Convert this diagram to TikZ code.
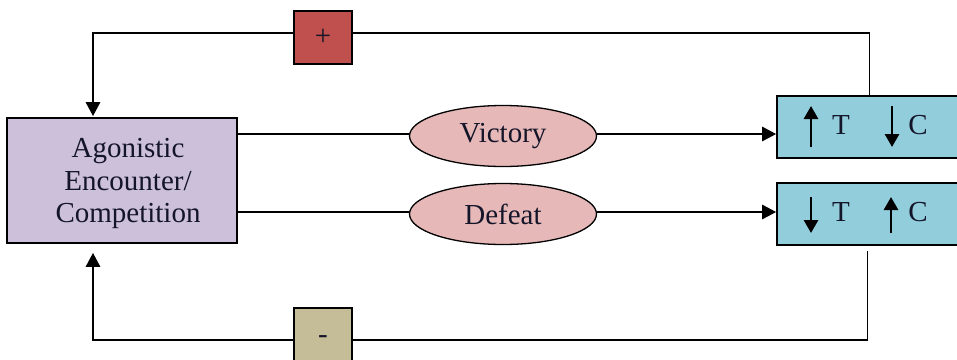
\documentclass[tikz,border=0pt]{standalone}
\usepackage{fontspec}
\setmainfont{Liberation Serif}
\usetikzlibrary{arrows.meta,calc,shapes.geometric}
\definecolor{plusred}{HTML}{C0504D}
\definecolor{minustan}{HTML}{C4BD97}
\definecolor{agonlilac}{HTML}{CCC0DA}
\definecolor{ovalpink}{HTML}{E6B9B8}
\definecolor{tcblue}{HTML}{92CDDC}
\definecolor{inkdark}{HTML}{15152A}
\tikzset{
  box/.style={draw=black, line width=1.6pt, inner sep=0pt},
  oval/.style={ellipse, draw=black, line width=1.3pt, fill=ovalpink, minimum width=187pt, minimum height=61pt, inner sep=0pt},
  txt/.style={font=\fontsize{29}{32.5}\selectfont, text=inkdark},
  thinline/.style={line width=1.6pt},
  thickarrow/.style={line width=2.6pt, -{Triangle[length=14pt,width=14pt]}},
  inarrow/.style={line width=2.8pt, -{Triangle[length=13pt,width=14pt]}},
}
\begin{document}
\begin{tikzpicture}[x=1pt,y=-1pt]
\useasboundingbox (0,0) rectangle (957,359);
\node[box, fill=agonlilac, minimum width=230pt, minimum height=125pt] (agon) at (122,180.5) {};
\node[txt, align=center, inner sep=0pt] (agontext) at ($(agon.center)+(6,3)$) {Agonistic\\Encounter/\\Competition};
\node[box, fill=plusred, minimum width=58pt, minimum height=53pt, txt] (plus) at (323,37.5) {+};
\node[box, fill=minustan, minimum width=58pt, minimum height=64pt, txt] (minus) at (323,340) {-};
\node[oval, txt] (vic) at (503,136) {Victory};
\node[oval, txt] (def) at (503,214) {Defeat};
\node[box, fill=tcblue, minimum width=185pt, minimum height=62pt] (tc1) at (869.5,127) {};
\node[box, fill=tcblue, minimum width=185pt, minimum height=62pt] (tc2) at (869.5,214) {};
% labels in boxes
\node[txt, inner sep=0pt] (t1) at ($(tc1.center)+(-28.5,-2)$) {T};
\node[txt, inner sep=0pt] (c1) at ($(tc1.center)+(48.5,-2)$) {C};
\node[txt, inner sep=0pt] (t2) at ($(tc2.center)+(-28.5,-2)$) {T};
\node[txt, inner sep=0pt] (c2) at ($(tc2.center)+(48.5,-2)$) {C};
\draw[inarrow] ($(tc1.center)+(-58.5,20)$) -- ($(tc1.center)+(-58.5,-21)$);
\draw[inarrow] ($(tc1.center)+(22.5,-21)$) -- ($(tc1.center)+(22.5,20)$);
\draw[inarrow] ($(tc2.center)+(-58.5,-17)$) -- ($(tc2.center)+(-58.5,19)$);
\draw[inarrow] ($(tc2.center)+(21.5,19)$) -- ($(tc2.center)+(21.5,-17)$);
% coordinates
\coordinate (topy) at (0,33);
\coordinate (boty) at (0,340);
\coordinate (leftx) at (93,0);
\coordinate (agontop) at ($(agon.north -| leftx)+(0,-1)$);
\coordinate (agonbot) at ($(agon.south -| leftx)+(0,9)$);
\coordinate (tc2bot) at ($(tc2.south)+(-2,5)$);
% connectors
\draw[thinline] (agon.east |- 0,134) -- (vic.west |- 0,134);
\draw[thickarrow] (vic.east |- 0,134) -- (tc1.west |- 0,134);
\draw[thinline] (agon.east |- 0,212) -- (def.west |- 0,212);
\draw[thickarrow] (def.east |- 0,212) -- (tc2.west |- 0,212);
\draw[thinline] (tc1.north) |- (plus.east |- topy);
\draw[thickarrow] (plus.west |- topy) -| (agontop);
\draw[thinline] (tc2bot) |- (minus.east |- boty);
\draw[thickarrow] (minus.west |- boty) -| (agonbot);
\end{tikzpicture}
\end{document}
